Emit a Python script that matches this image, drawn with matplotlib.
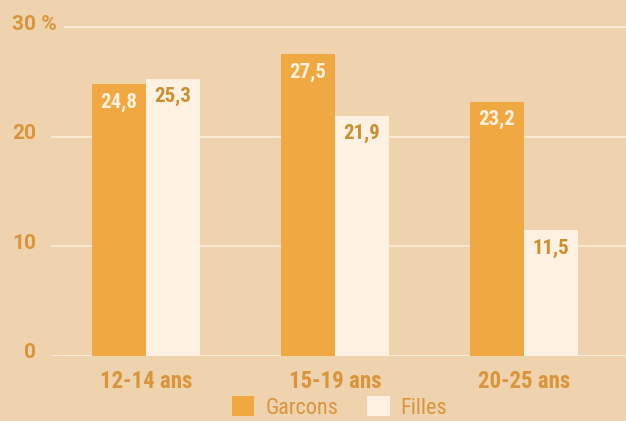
import matplotlib.pyplot as plt
import numpy as np

categories = ["12-14 ans", "15-19 ans", "20-25 ans"]
garcons = [24.8, 27.5, 23.2]
filles = [25.3, 21.9, 11.5]
series_labels = ["Garcons", "Filles"]
yticks = [0, 10, 20, 30]
ytick_labels = ["0", "10", "20", "30 %"]

bg = "#EFD3AE"
orange = "#F0A843"
cream = "#FEF1E2"
gold = "#DA953C"
gold_dark = "#C98F30"
grid_col = "#F9E9D3"

narrow = ['Roboto Condensed', 'DejaVu Sans']
wide = ['Roboto', 'DejaVu Sans']
plt.rcParams['font.family'] = narrow

W, H = 626, 421
fig = plt.figure(figsize=(W / 100, H / 100), dpi=100, facecolor=bg)

# axes placed in pixels: zero line at y=356, 30 at y=27
x0, x1 = 51, 626
px_per_unit = (356 - 27) / 30
ytop = 31
ax = fig.add_axes([x0 / W, (H - 356) / H, (x1 - x0) / W, ytop * px_per_unit / H])
ax.set_facecolor(bg)
ax.set_ylim(0, ytop)
ax.set_xlim(-(146 - x0) / 189, (x1 - 146) / 189)
for s in ax.spines.values():
    s.set_visible(False)
ax.set_xticks([])
ax.set_yticks([])

x = np.arange(len(categories))
w = 54 / 189

for t in yticks:
    start = (65 - x0) / (x1 - x0) if t == 30 else 0
    ax.axhline(t, xmin=start, xmax=1, color=grid_col, lw=1.5, zorder=1)

b1 = ax.bar(x - w / 2, garcons, w, color=orange, zorder=2, label=series_labels[0])
b2 = ax.bar(x + w / 2, filles, w, color=cream, zorder=2, label=series_labels[1])

for xi, v in zip(x, garcons):
    ax.annotate(f"{v:.1f}".replace(".", ","), (xi - w / 2, v), xytext=(0, -13),
                textcoords="offset points", ha="center", va="center",
                fontsize=15, fontweight="bold", color="#FDF0DC", zorder=3)
for xi, v in zip(x, filles):
    ax.annotate(f"{v:.1f}".replace(".", ","), (xi + w / 2, v), xytext=(0, -13),
                textcoords="offset points", ha="center", va="center",
                fontsize=15, fontweight="bold", color=gold_dark, zorder=3)

# y labels
for t, lab in zip(yticks, ytick_labels):
    yf = (H - 356 + t * px_per_unit + 3) / H
    if lab.endswith("%"):
        fig.text(12 / W, yf, lab, ha="left", va="center", fontsize=15,
                 fontweight="bold", color=gold, family=wide)
    else:
        fig.text(36 / W, yf, lab, ha="right", va="center", fontsize=15,
                 fontweight="bold", color=gold, family=wide)

# category labels
for xi, lab in zip(x, categories):
    ax.annotate(lab, (xi, 0), xytext=(0, -18), textcoords="offset points",
                ha="center", va="center", fontsize=16.5, fontweight="bold",
                color=gold)

fig.legend([b1, b2], series_labels, loc="lower left",
           bbox_to_anchor=(221 / W, -9 / H), ncol=2, frameon=False,
           prop={'family': narrow, 'size': 16},
           handlelength=1.0, handleheight=1.0,
           handletextpad=0.5, columnspacing=1.3, borderpad=0, labelcolor=gold)

fig.savefig("out.png", dpi=100, facecolor=bg)
